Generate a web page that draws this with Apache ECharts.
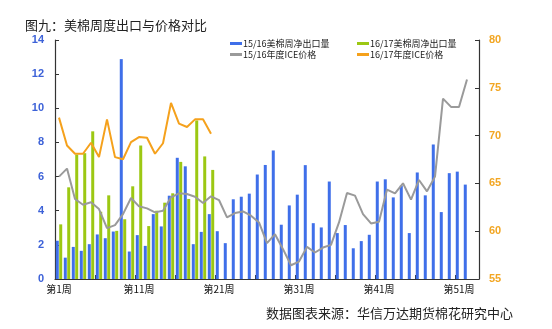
<!DOCTYPE html>
<html><head><meta charset="utf-8">
<script src="https://cdn.jsdelivr.net/npm/echarts@6/dist/echarts.min.js"></script>
<style>html,body{margin:0;padding:0;background:#fff}#c{width:552px;height:329px}</style>
</head><body><div id="c"></div>
<script>
const weekCount = 53;
const weeks = [];
for (let i = 1; i <= weekCount; i++) weeks.push('第' + i + '周');
const export1516 = [2.24,1.25,1.88,1.65,2.04,2.61,2.39,2.78,12.88,1.61,2.57,1.94,3.80,3.08,4.88,7.10,6.60,2.04,2.76,3.80,2.80,2.10,4.67,4.82,5.00,6.12,6.68,7.53,3.18,4.31,4.94,6.67,3.27,3.02,5.71,2.69,3.16,1.80,2.22,2.59,5.71,5.84,4.78,5.47,2.69,6.24,4.90,7.88,3.92,6.20,6.29,5.53,null];
const export1617 = [3.2,5.37,7.29,7.37,8.65,3.94,4.9,2.82,3.5,5.43,7.82,3.1,4.0,4.47,5.02,6.86,4.69,9.29,7.18,6.39];
const ice1516 = [65.71,66.55,63.37,62.77,63.02,62.32,60.32,60.64,61.79,63.47,62.6,62.39,61.97,62.14,63.54,63.96,63.89,63.61,62.95,63.65,63.26,61.44,61.9,62.07,61.62,60.92,58.75,59.69,58.12,56.44,56.82,58.36,57.77,58.29,58.57,60.92,64.0,63.72,61.79,60.81,60.99,64.35,63.96,65.01,63.3,65.36,64.17,65.71,73.87,73.0,73.0,75.87];
const ice1617 = [71.88,68.97,68.1,68.1,69.25,67.75,71.7,67.75,67.53,69.32,69.85,69.78,68.1,69.2,73.42,71.25,70.9,71.7,71.7,70.2];
const leftTicks = [0,14,2];
const rightTicks = [55,80,5];
const names = ['15/16美棉周净出口量','16/17美棉周净出口量','15/16年度ICE价格','16/17年度ICE价格'];

const chart = echarts.init(document.getElementById('c'), null, {renderer:'canvas'});
const legendBase = {icon:'rect', itemWidth:12, itemHeight:3, itemGap:10, padding:0,
  textStyle:{fontSize:9, color:'#222', fontFamily:'"Noto Sans CJK SC", sans-serif', padding:[0,0,0,-4]}};
const axisLineStyle = {show:true, lineStyle:{color:'#333', width:1.2}};
chart.setOption({
  animation:false,
  title:[
    {text:'图九：美棉周度出口与价格对比', left:20, top:14, textStyle:{fontSize:13, fontWeight:'normal', color:'#222', fontFamily:'"Noto Sans CJK SC", sans-serif'}},
    {text:'数据图表来源：华信万达期货棉花研究中心', left:261, top:302, textStyle:{fontSize:13, fontWeight:'normal', color:'#222', fontFamily:'"Noto Sans CJK SC", sans-serif'}}
  ],
  legend:[
    Object.assign({}, legendBase, {data:[names[0]], left:230, top:39}),
    Object.assign({}, legendBase, {data:[names[1]], left:357, top:39}),
    Object.assign({}, legendBase, {data:[names[2]], left:230, top:50}),
    Object.assign({}, legendBase, {data:[names[3]], left:357, top:50})
  ],
  grid:{left:55, right:73, top:40, bottom:50, containLabel:false},
  xAxis:{type:'category', data:weeks, boundaryGap:true,
    axisLine:axisLineStyle,
    axisTick:{show:true, inside:true, length:4, interval:4, lineStyle:{color:'#333'}},
    axisLabel:{interval:9, fontSize:10, color:'#111', margin:5, fontFamily:'"Noto Sans CJK SC", sans-serif'},
    splitLine:{show:false}},
  yAxis:[
    {type:'value', min:leftTicks[0], max:leftTicks[1], interval:leftTicks[2], position:'left',
      axisLine:axisLineStyle, axisTick:{show:true, inside:true, length:4, lineStyle:{color:'#333'}},
      axisLabel:{fontSize:11, fontWeight:'bold', color:'#3d62d8', margin:11, fontFamily:'Arial, "Liberation Sans", sans-serif'},
      splitLine:{show:false}},
    {type:'value', min:rightTicks[0], max:rightTicks[1], interval:rightTicks[2], position:'right',
      axisLine:axisLineStyle, axisTick:{show:true, inside:true, length:4, lineStyle:{color:'#333'}},
      axisLabel:{fontSize:11, fontWeight:'bold', color:'#f2a623', margin:10, fontFamily:'Arial, "Liberation Sans", sans-serif'},
      splitLine:{show:false}}
  ],
  series:[
    {name:names[0], type:'bar', yAxisIndex:0, data:export1516, barWidth:3, barGap:'15%', itemStyle:{color:'#3f6fe9'}},
    {name:names[1], type:'bar', yAxisIndex:0, data:export1617, barWidth:3, barGap:'15%', itemStyle:{color:'#9cc813'}},
    {name:names[2], type:'line', yAxisIndex:1, data:ice1516, symbol:'none', lineStyle:{color:'#9a9a9a', width:2}, itemStyle:{color:'#9a9a9a'}, z:5},
    {name:names[3], type:'line', yAxisIndex:1, data:ice1617, symbol:'none', lineStyle:{color:'#f5a11c', width:2}, itemStyle:{color:'#f5a11c'}, z:5}
  ]
});
</script></body></html>
